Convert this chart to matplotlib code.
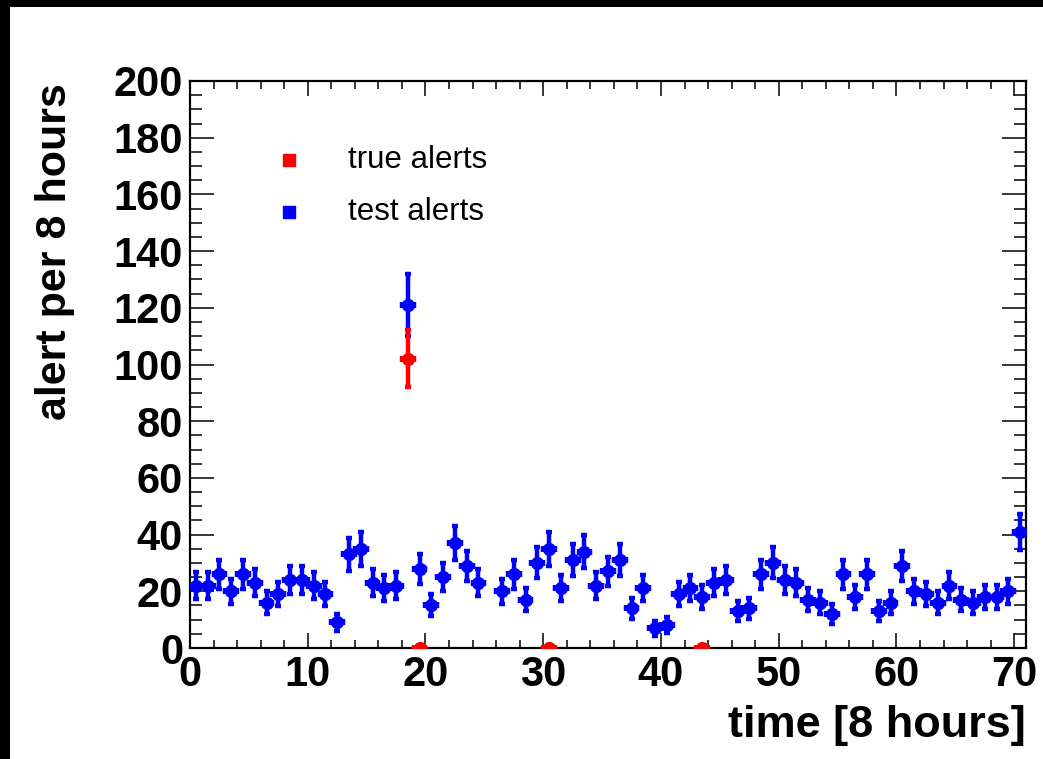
# Alert rate per 8-hour bin, ROOT-like style
import matplotlib as mpl
mpl.use('Agg')
import matplotlib.pyplot as plt
import numpy as np
from matplotlib.patches import Rectangle

plt.rcParams['font.family'] = ['Liberation Sans', 'DejaVu Sans']

# bins of 8 hours, centres at i+0.5
nbins = 71
test_alerts = [22, 22, 26, 20, 26, 23, 16, 19, 24, 24,
               22, 19, 9, 33, 35, 23, 21, 22, 121, 28,
               15, 25, 37, 29, 23, np.nan, 20, 26, 17, 30,
               35, 21, 31, 34, 22, 27, 31, 14, 21, 7,
               8, 19, 21, 18, 23, 24, 13, 14, 26, 30,
               24, 23, 17, 16, 12, 26, 18, 26, 13, 16,
               29, 20, 19, 16, 22, 17, 16, 18, 18, 20,
               41]
true_bins = [18, 19, 30, 43]
true_alerts = [102, 0, 0, 0]

xticks = [0, 10, 20, 30, 40, 50, 60, 70]
yticks = [0, 20, 40, 60, 80, 100, 120, 140, 160, 180, 200]

# Poisson errors on counts
blue_x = np.arange(nbins) + 0.5
blue_y = np.array(test_alerts, dtype=float)
blue_e = np.sqrt(blue_y)
red_x = np.array(true_bins) + 0.5
red_y = np.array(true_alerts, dtype=float)
red_e = np.sqrt(red_y)

fig = plt.figure(figsize=(10.43, 7.59), dpi=100)
ax = fig.add_axes([190/1043, 1-648/759, (1026-190)/1043, (648-81)/759])

# black frame pieces of the canvas (top and left)
fig.patches.append(Rectangle((0, 1-7/759), 1, 7/759, transform=fig.transFigure,
                             facecolor='black', edgecolor='none', zorder=10))
fig.patches.append(Rectangle((0, 0), 10/1043, 1, transform=fig.transFigure,
                             facecolor='black', edgecolor='none', zorder=10))

ax.errorbar(blue_x, blue_y, yerr=blue_e, xerr=0.5, fmt='o', color='#0000ff',
            markersize=8.5, elinewidth=3.2, capsize=2.4, capthick=3.2, zorder=3)
ax.errorbar(red_x, red_y, yerr=red_e, xerr=0.5, fmt='o', color='#ff0000',
            markersize=8.5, elinewidth=3.2, capsize=2.4, capthick=3.2, zorder=4)

ax.set_xlim(0, 71)
ax.set_ylim(0, 200)
ax.set_xticks(xticks)
ax.set_yticks(yticks)
ax.set_xticks(np.arange(0, 71, 2), minor=True)
ax.set_yticks(np.arange(0, 201, 5), minor=True)

ax.tick_params(axis='both', which='both', direction='in', top=True, right=True, width=1.1)
ax.tick_params(axis='x', which='major', length=11, pad=5, labelsize=30)
ax.tick_params(axis='x', which='minor', length=6)
ax.tick_params(axis='y', which='major', length=17, pad=5, labelsize=30)
ax.tick_params(axis='y', which='minor', length=8.5)
for lab in ax.get_xticklabels() + ax.get_yticklabels():
    lab.set_fontweight('bold')
for sp in ax.spines.values():
    sp.set_linewidth(1.6)

# legend by hand, ROOT style
ax.plot([0.118], [0.861], 's', color='#ff0000', markersize=8.5, transform=ax.transAxes, clip_on=False)
ax.plot([0.118], [0.769], 's', color='#0000ff', markersize=8.5, transform=ax.transAxes, clip_on=False)
ax.text(0.189, 0.861, 'true alerts', transform=ax.transAxes, fontsize=22.5, va='center', ha='left')
ax.text(0.189, 0.769, 'test alerts', transform=ax.transAxes, fontsize=22.5, va='center', ha='left')

fig.text(55/1043, 1-83/759, 'alert per 8 hours', rotation=90, ha='center', va='top',
         fontsize=31, fontweight='bold')
fig.text(1026/1043, 1-705/759, 'time [8 hours]', ha='right', va='top',
         fontsize=32.5, fontweight='bold')

plt.savefig('out.png', dpi=100)
